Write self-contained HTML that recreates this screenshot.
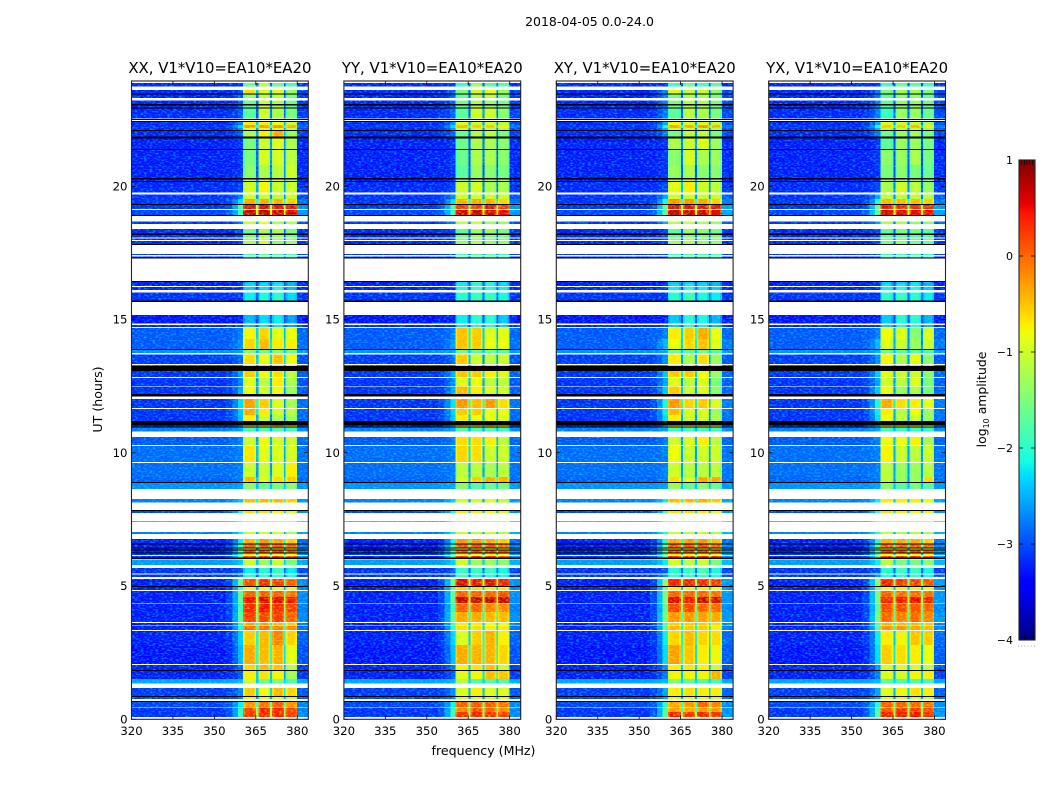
<!DOCTYPE html>
<html lang="en">
<head>
<meta charset="utf-8">
<title>2018-04-05 spectrogram</title>
<style>
html,body{margin:0;padding:0;background:#fff;width:1050px;height:800px;overflow:hidden}
svg{display:block}
text{font-family:"DejaVu Sans","Liberation Sans",sans-serif;fill:#000}
</style>
</head>
<body>
<svg id="chart" xmlns="http://www.w3.org/2000/svg" width="1050" height="800" viewBox="0 0 1050 800">
  <defs>
    <filter id="speckle" x="0" y="0" width="100%" height="100%" color-interpolation-filters="sRGB">
      <feTurbulence type="fractalNoise" baseFrequency="0.34 0.62" numOctaves="1" seed="7"/>
      <feColorMatrix type="matrix" values="0 0 0 0 0  1.6 0 0 0 -0.72  0 0 0 0 0  0 0 0 0 1"/>
    </filter>
  </defs>
  <text x="589.5" y="26" font-size="12.5" text-anchor="middle">2018-04-05 0.0-24.0</text>
  <text transform="translate(102 399.5) rotate(-90)" font-size="12.6" text-anchor="middle">UT (hours)</text>
  <text x="483.5" y="755" font-size="12.6" text-anchor="middle">frequency (MHz)</text>
  <text transform="translate(986 399.5) rotate(-90)" font-size="12.4" text-anchor="middle">log<tspan font-size="8" dy="3">10</tspan><tspan dy="-3"> amplitude</tspan></text>
  <g id="panels"></g>
  <g id="colorbar"></g>
</svg>
<script>
const panelNames = ["XX", "YY", "XY", "YX"];
const freqTicks = [320, 335, 350, 365, 380];
const hourTicks = [0, 5, 10, 15, 20];
const colorbarTicks = [-4, -3, -2, -1, 0, 1];
const shoulderBoost = [0, 0.05, 0.2, 0.2];

const channelEdges = [320,337,354,356.5,358.5,360.4,361,364.5,365.1,365.9,366.5,369.6,370.2,370.9,371.5,374.6,375.2,375.8,376.4,379.3,379.9,384];
const channelRole = ["bg","bg","s1","s2","s3","e0","b0","e0","g0","e1","b1","e1","g1","e2","b2","e2","g2","e3","b3","e3","right"];

const rowHigh = [23.88,23.62,23.44,23.22,23.03,22.91,22.41,22.30,22.19,22.08,21.80,21.36,20.80,20.26,20.16,19.70,19.52,19.29,19.11,18.68,18.39,18.18,18.04,17.94,17.46,17.36,16.41,16.35,16.22,16.02,15.17,14.80,14.69,14.27,13.86,13.68,13.29,13.07,12.81,12.48,12.02,11.65,11.42,11.03,10.94,10.59,10.26,9.62,9.09,8.87,8.26,7.81,7.43,7.02,6.76,6.55,6.41,6.34,6.22,6.12,5.99,5.68,5.44,5.26,4.96,4.81,4.59,4.34,4.02,3.61,3.50,3.32,2.78,2.03,1.82,1.52,1.18,0.84,0.65,0.44,0.27];
const rowLow = [23.74,23.49,23.31,23.09,22.95,22.55,22.30,22.19,22.11,21.86,21.39,20.80,20.31,20.20,19.77,19.52,19.33,19.14,18.92,18.58,18.22,18.08,17.98,17.83,17.43,17.32,16.35,16.26,16.11,15.71,14.86,14.72,14.27,13.90,13.74,13.33,13.26,12.85,12.51,12.21,11.68,11.42,11.19,10.99,10.79,10.29,9.65,9.09,8.91,8.65,8.14,7.74,7.40,6.95,6.60,6.45,6.38,6.26,6.16,6.07,5.79,5.48,5.34,5.00,4.85,4.59,4.36,4.02,3.65,3.52,3.35,2.78,2.07,1.85,1.52,1.34,0.88,0.77,0.46,0.27,0.09];
const blackHigh = [23.49,23.09,22.95,22.53,22.45,22.11,21.86,21.39,20.31,20.20,19.33,18.92,18.22,17.83,17.32,16.44,15.71,13.90,13.26,12.21,11.19,10.99,8.91,7.85,6.60,6.45,6.38,6.26,6.07,5.00,1.85,0.88,0.68];
const blackLow = [23.44,23.03,22.91,22.49,22.41,22.08,21.80,21.36,20.26,20.16,19.29,18.89,18.18,17.79,17.29,16.41,15.65,13.86,13.07,12.11,11.03,10.94,8.87,7.81,6.55,6.41,6.34,6.22,6.02,4.96,1.82,0.84,0.65];

const backgroundLevel = [-3.25,-3.25,-3.25,-3.25,-3.25,-3.25,-3.25,-3.2,-3.25,-3.25,-3.3,-3.3,-3.3,-3.3,-3.25,-3.2,-3.2,-3.2,-3.1,-3.2,-3.25,-3.25,-3.25,-3.25,-3.2,-3.2,-3.3,-3.3,-3.25,-3.2,-3.35,-3.25,-3,-3,-2.7,-3.15,-2.9,-3.2,-3.2,-3.2,-3.2,-3.2,-3.2,-3.2,-2.8,-3,-2.9,-2.9,-2.95,-2.7,-2.8,-3.1,-3.2,-2.8,-3.3,-3.3,-3.3,-3.3,-3.2,-3.2,-2.65,-3.2,-3.2,-3.3,-3.3,-3.3,-3.3,-3.3,-3.3,-3.3,-3.3,-3.3,-3.35,-3.3,-3.3,-2.6,-3.15,-3.1,-3.1,-3.2,-3.2];
const shoulderLevel = [-3.2,-3,-3,-3,-3,-3,-2.8,-2.3,-2.7,-3,-3.2,-3.2,-3.2,-3.2,-3.1,-2.8,-2.3,-1.8,-1.9,-2.8,-3.1,-3.1,-3.1,-3.1,-3.1,-3.1,-3.2,-3.2,-3.2,-3.2,-3.3,-3.2,-2.8,-2.7,-2.6,-2.9,-2.8,-2.6,-2.8,-2.6,-2.3,-2.4,-2.5,-2.6,-2.6,-2.8,-2.8,-2.8,-2.8,-2.6,-2.4,-2.1,-2.4,-2.2,-2.2,-1.9,-1.6,-1.9,-1.8,-1.8,-2.4,-3,-2.9,-1.6,-1.8,-1.7,-1.7,-1.9,-1.7,-2,-2,-2.4,-2.5,-2.9,-3,-2.5,-2.8,-2.8,-2.2,-2,-1.9];

const bandsXX = [[-1.6,-1.1,-1.6,-1.8],[-.6,-.9,-.9,-1.3],[-1.4,-1.1,-1.1,-1.5],[-1.6,-1,-1.2,-1.6],[-1.6,-1.1,-1.2,-1.6],[-1.7,-1,-1.2,-1.5],[-.7,-.7,-.8,-1],[-.25,-.25,-.2,-.35],[-.9,-.9,-.9,-1.1],[-1.2,-.7,-.3,-1.3],[-1.5,-1,-.9,-1.2],[-1.5,-.95,-.95,-1.1],[-1.4,-1.2,-1.1,-1],[-1.1,-.9,-.9,-1.2],[-.95,-.75,-1,-1],[-1,-1,-1.1,-1],[-.3,-.3,-.35,-.5],[.55,.55,.5,.5],[.75,.75,.7,.7],[-1,-.85,-1.2,-1.2],[-1.6,-1.2,-1.2,-1.5],[-1.5,-1.2,-1.3,-1.5],[-1.3,-1,-1.3,-1.4],[-1.2,-1,-1.4,-1.3],[-1.8,-1.6,-1.7,-1.8],[-1.9,-1.7,-1.8,-1.9],[-2.4,-2.4,-2.3,-2.5],[-2.3,-2.3,-2.2,-2.5],[-2.4,-2.3,-2.1,-2.5],[-2.2,-2.1,-2,-2.3],[-2.5,-2.3,-2.2,-2.6],[-2.5,-2.3,-2.3,-2.6],[-.75,-.55,-.85,-.8],[-.55,-.4,-.7,-.7],[-1.5,-1.6,-1.5,-1.6],[-.6,-.8,-.45,-.8],[-1,-1,-1,-1],[-.5,-.8,-.6,-1.1],[-.9,-1.1,-.7,-1.2],[-.8,-1,-.8,-1.3],[-.25,-.5,-.9,-1.2],[-.3,-.7,-1,-1.1],[-.7,-1,-1.2,-1.3],[-.5,-.6,-.3,-.6],[-1.9,-1.8,-1.8,-1.9],[-1,-.8,-.95,-1],[-.65,-.85,-.9,-.95],[-1,-1,-.9,-.7],[-.4,-.9,-.6,-.5],[-1.4,-1.6,-1.5,-1.4],[-.4,-.4,-.4,-.5],[-.6,-.6,-.8,-.9],[-.3,-.3,-.3,-.4],[-1,-1,-1,-1.2],[-.35,-.2,-.3,-.5],[.1,.2,.2,.05],[-.9,-.9,-.9,-.9],[.35,.35,.35,.25],[-.6,-.7,-.8,-.9],[.3,.35,.35,.25],[-1,-1.3,-1,-1.5],[-2.2,-2,-1.9,-2.2],[-2,-2,-1.9,-2.1],[.2,.4,.3,.1],[-.9,-.8,-.8,-.9],[.1,.1,.1,0],[.5,.6,.55,.5],[.4,.5,.4,.3],[.3,.25,.3,.1],[-.3,-.3,-.4,-.5],[0,0,-.1,-.15],[-.5,-.4,-.1,-.55],[-.3,-.4,-.35,-.85],[-.55,-.4,-.45,-1.1],[-.7,-.65,-.75,-1.25],[-1,-1.6,-1.5,-1.8],[-.5,-.8,-.4,-.55],[-.9,-.9,-.9,-1],[-.2,0,.15,-.15],[.25,.45,.4,.25],[.35,.4,.45,.3]];
const bandsYY = [[-1.9,-1.3,-1.7,-1.7],[-1.5,-1,-.8,-1.3],[-1.6,-1.2,-1.1,-1.5],[-1.6,-1.2,-1.3,-1.5],[-1.6,-1.2,-1.3,-1.5],[-1.7,-1,-1,-1.4],[-.9,-1,-1,-1.1],[-.4,-.5,-.5,-.7],[-1,-1,-1.1,-1.2],[-1.6,-1.2,-1.1,-1.5],[-1.6,-1.2,-1.2,-1.4],[-1.6,-1.2,-1.2,-1.4],[-1.7,-1.3,-1.4,-1.5],[-1.4,-1.1,-1.2,-1.3],[-1,-.95,-1.2,-1.2],[-1,-1,-1,-1],[-.35,-.3,-.35,-.55],[.3,.3,.5,.3],[.65,.7,.65,.6],[-1.1,-1,-1.3,-1.3],[-1.7,-1.3,-1.3,-1.5],[-1.6,-1.3,-1.4,-1.5],[-1.5,-1.3,-1.5,-1.5],[-1.4,-1.2,-1.4,-1.4],[-1.8,-1.7,-1.7,-1.8],[-1.9,-1.8,-1.8,-1.9],[-2.2,-2,-2.1,-2.3],[-2.2,-2,-2.1,-2.3],[-2.1,-1.9,-2,-2.2],[-2,-1.9,-1.9,-2.1],[-2.2,-2,-2,-2.4],[-2.3,-2.1,-2.1,-2.4],[-.45,-.5,-.9,-.85],[-.45,-.5,-.8,-.8],[-1.6,-1.7,-1.6,-1.7],[-.5,-1,-1.1,-1],[-1,-1,-1,-1],[-.5,-.5,-.7,-.9],[-.9,-.8,-1.1,-1.1],[-.4,-.7,-.9,-1],[-.2,-.4,-.2,-.6],[-.5,-.5,-.8,-.8],[-.7,-.8,-.8,-.9],[-.5,-.6,-.5,-.7],[-1.8,-1.8,-1.8,-1.9],[-.6,-.6,-.7,-1.1],[-.55,-.6,-1,-1],[-1.1,-1.1,-1.2,-1.1],[-.95,-.5,-.3,-.35],[-1.4,-1.7,-1.6,-1.5],[-1,-1,-.9,-1.1],[-.7,-.7,-.8,-1],[-.3,-.2,-.3,-.4],[-1,-1.1,-1,-1.1],[-.2,-.2,-.3,-.5],[.15,.2,.2,.05],[-.9,-.9,-.9,-.9],[.3,.35,.35,.25],[-.7,-.8,-.8,-.9],[.35,.4,.4,.3],[-1,-1.3,-1.3,-1.4],[-1.9,-1.9,-1.9,-2.1],[-1.9,-2,-2,-2.1],[.55,.5,.55,.45],[-.5,-.6,-.7,-.7],[.1,.1,.1,.2],[.7,.7,.7,.7],[.1,.1,-.1,-.1],[-.3,-.3,-.4,-.4],[-.7,-.7,-.8,-.8],[-.6,-.6,-.7,-.7],[-.9,-.5,-.35,-.7],[-.3,-.35,-.35,-.55],[-.75,-.65,-.45,-.95],[-.85,-.75,-.4,-.45],[-1.2,-1.8,-1.8,-1.8],[-.9,-.7,-.9,-.9],[-1,-1,-1,-1],[.1,.15,.1,0],[-.1,.25,.05,-.15],[.35,.45,.4,.3]];
const bandsXY = [[-1.9,-1.6,-1.8,-1.7],[-.9,-1,-1,-1.4],[-1.5,-1.2,-1.2,-1.5],[-1.5,-1.1,-1.2,-1.5],[-1.5,-1.2,-1.2,-1.5],[-1.7,-1.1,-1.2,-1.5],[-.8,-.9,-.9,-1.1],[-.3,-.35,-.2,-.4],[-1,-1,-1.1,-1.2],[-1.5,-1.1,-1.1,-1.5],[-1.2,-1,-.9,-1.3],[-1.4,-.95,-1.2,-1.3],[-1.3,-1.2,-1.4,-1.4],[-1.1,-.9,-1,-1.3],[-.85,-.7,-1,-1.1],[-1,-1,-1,-1],[-.2,-.2,-.3,-.5],[.6,.5,.5,.5],[.7,.7,.65,.6],[-1.1,-1,-1.2,-1.3],[-1.7,-1.3,-1.4,-1.5],[-1.6,-1.4,-1.5,-1.5],[-1.5,-1.2,-1.5,-1.4],[-1.3,-1.2,-1.4,-1.4],[-1.8,-1.7,-1.8,-1.8],[-1.9,-1.8,-1.8,-1.9],[-2.4,-2.4,-2.4,-2.5],[-2.3,-2.2,-2.3,-2.5],[-2.2,-2.1,-2.2,-2.4],[-2,-1.9,-2.1,-2.2],[-2.4,-2,-2.1,-2.5],[-2.4,-2.1,-2.2,-2.5],[-.7,-.5,-.3,-.8],[-.8,-.55,-.45,-.85],[-1.6,-1.7,-1.6,-1.7],[-.7,-1.2,-.6,-1.3],[-1,-1.1,-1,-1.2],[-.5,-.5,-.8,-1.3],[-.9,-1.1,-.9,-1.5],[-.5,-1,-.9,-1.4],[-.2,-.55,-.5,-.9],[-.4,-.9,-.9,-1.3],[-.7,-1,-1,-1.2],[-.5,-.7,-.6,-.8],[-1.9,-1.9,-1.9,-1.9],[-1,-.9,-.7,-1.1],[-.8,-1,-1,-1],[-1,-1.1,-1.1,-1.1],[-.6,-.9,-.3,-.3],[-1.3,-1.6,-1.4,-1.6],[-.4,-.4,-.3,-.5],[-.6,-.6,-.7,-.9],[-.3,-.3,-.3,-.4],[-1,-1.1,-1,-1.2],[-.3,-.2,-.2,-.4],[.15,.2,.2,.1],[-.9,-.9,-.9,-.9],[.35,.35,.35,.25],[-.6,-.7,-.8,-.9],[.35,.35,.35,.3],[-.95,-1.1,-1,-1.5],[-2,-1.9,-1.8,-2.1],[-2,-1.9,-1.9,-2.1],[.45,.45,.4,.3],[-.7,-.7,-.7,-.8],[.1,.1,.05,0],[.6,.5,.7,.6],[.25,.25,.1,.05],[-.2,-.2,-.25,-.3],[-.5,-.5,-.5,-.6],[-.4,-.5,-.5,-.7],[-.55,-.4,-.55,-.6],[-.25,-.45,-.7,-.75],[-.75,-.65,-.75,-1.05],[-.75,-.75,-.75,-.35],[-1.5,-1.7,-1.8,-1.9],[-.7,-.6,-.7,-.7],[-.9,-.9,-.9,-1],[-.3,-.2,.1,-.1],[-.25,-.3,-.2,-.2],[.45,.35,.45,.35]];
const bandsYX = [[-1.9,-1.6,-1.7,-1.9],[-1.5,-1.3,-1.3,-1.5],[-1.7,-1.4,-1.4,-1.6],[-1.7,-1.4,-1.4,-1.6],[-1.7,-1.4,-1.4,-1.6],[-1.9,-1.3,-1.3,-1.6],[-.9,-1,-1,-1.2],[-.5,-.5,-.4,-.7],[-1.1,-1.1,-1.1,-1.3],[-1.6,-1.3,-1.3,-1.5],[-1.7,-1.3,-1.3,-1.5],[-1.4,-1.3,-1.2,-1.5],[-1.5,-1.4,-1.5,-1.6],[-1.4,-1.3,-1.3,-1.5],[-1.2,-.95,-1.1,-1.3],[-1.1,-1.1,-1.1,-1.1],[-.4,-.4,-.4,-.5],[.5,.4,.4,.4],[.65,.6,.6,.55],[-1.2,-1.2,-1.4,-1.4],[-1.7,-1.5,-1.5,-1.7],[-1.7,-1.6,-1.7,-1.7],[-1.6,-1.5,-1.6,-1.6],[-1.5,-1.4,-1.6,-1.6],[-1.8,-1.8,-1.8,-1.9],[-1.9,-1.8,-1.8,-1.9],[-2.4,-2.4,-2.3,-2.5],[-2.3,-2.2,-2.2,-2.5],[-2.2,-2.1,-2.1,-2.4],[-2,-1.9,-2,-2.2],[-2.4,-2,-2,-2.5],[-2.4,-2.1,-2.1,-2.5],[-.8,-.9,-1.4,-.9],[-.9,-1,-1.3,-1],[-1.6,-1.7,-1.7,-1.8],[-.75,-1.2,-.85,-1.4],[-1.1,-1.2,-1.1,-1.2],[-.9,-1,-1,-1.4],[-1,-1.1,-.9,-1.5],[-.8,-1.3,-1.2,-1.5],[-.3,-.6,-.7,-.8],[-.7,-1.1,-.8,-1.3],[-.8,-1.1,-1,-1.3],[-.6,-.7,-.6,-.8],[-1.9,-1.9,-1.9,-2],[-.8,-.8,-.75,-1.2],[-.75,-1,-1.1,-1],[-1.1,-1.3,-1.3,-1.1],[-1.1,-1.3,-1.3,-.55],[-1.4,-1.7,-1.5,-1.7],[-.7,-.7,-.7,-.8],[-.6,-.7,-.8,-.9],[-.3,-.3,-.3,-.4],[-1.1,-1.2,-1.1,-1.2],[-.3,-.3,-.3,-.5],[.15,.15,.15,.05],[-.9,-.9,-.9,-.9],[.35,.35,.35,.25],[-.7,-.8,-.8,-.9],[.35,.35,.35,.25],[-1.1,-1.5,-1.5,-1.4],[-2,-1.9,-1.9,-2.1],[-2,-2,-1.9,-2.1],[.45,.35,.3,.2],[-.8,-.7,-.7,-.8],[.1,.05,.05,0],[.45,.5,.55,.45],[.2,.2,.15,.1],[.05,-.05,.05,-.1],[-.4,-.4,-.4,-.5],[-.2,-.2,-.3,-.4],[-.7,-.75,-.45,-.5],[-.5,-.6,-.7,-.8],[-.95,-.9,-.95,-1.05],[-.9,-.95,-.75,-.7],[-1.7,-1.8,-1.8,-1.9],[-.9,-.75,-.6,-.7],[-1,-1,-1,-1],[.1,.1,.05,0],[.15,.35,.3,.2],[.45,.5,.5,.4]];
const panelBands = [bandsXX, bandsYY, bandsXY, bandsYX];

const SVG_NS = "http://www.w3.org/2000/svg";
const axisTop = 81;
const axisBottom = 719.3;
const axisWidth = 176.8;
const hourSpan = 23.95;
const freqMin = 320;
const freqSpan = 64;

function panelLeft(i) { return 131.5 + i * 212.4; }
function xScale(i, mhz) { return panelLeft(i) + (mhz - freqMin) * axisWidth / freqSpan; }
function yScale(hour) { return axisBottom - hour * (axisBottom - axisTop) / hourSpan; }
function colorbarY(v) { return 640 - (v + 4) * 96; }

function jetPart(t, a, b, c, d) {
  if (t < a) return 0;
  if (t < b) return (t - a) / (b - a);
  if (t < c) return 1;
  if (t < d) return 1 - (t - c) / (d - c);
  return 0;
}
function jet(level) {
  const t = Math.max(0, Math.min(1, (level + 4) / 5));
  const r = t > 0.89 ? 1 - (t - 0.89) / 0.11 * 0.5 : jetPart(t, 0.35, 0.66, 2, 3);
  const g = jetPart(t, 0.125, 0.375, 0.64, 0.91);
  const b = t < 0.11 ? 0.5 + t / 0.11 * 0.5 : jetPart(t, -1, 0, 0.34, 0.65);
  return "rgb(" + Math.round(r * 255) + "," + Math.round(g * 255) + "," + Math.round(b * 255) + ")";
}
function makeSvg(tag, attrs, parent) {
  const el = document.createElementNS(SVG_NS, tag);
  for (const k in attrs) el.setAttribute(k, attrs[k]);
  parent.appendChild(el);
  return el;
}
function cellLevel(role, bg, shoulder, bands) {
  const mix = function (w) { return shoulder > bg ? bg + (shoulder - bg) * w : bg; };
  if (role === "bg") return bg;
  if (role === "s1") return mix(0.12);
  if (role === "s2") return mix(0.45);
  if (role === "s3") return mix(1);
  if (role === "right") return mix(0.35);
  const n = Number(role[1]);
  if (role[0] === "b") return bands[n];
  if (role[0] === "e") return bands[n] - 0.22;
  return Math.max(bg + 0.25, (bands[n] + bands[n + 1]) / 2 - 1.7);
}

const panelsRoot = document.getElementById("panels");
panelNames.forEach(function (name, p) {
  const group = makeSvg("g", {}, panelsRoot);
  
  

  const left = panelLeft(p);
  const plotBg = makeSvg("rect", { x: left, y: axisTop, width: axisWidth, height: axisBottom - axisTop, fill: "#fff" }, group);
  
  

  const heat = makeSvg("g", { "shape-rendering": "crispEdges" }, group);
  
  

  rowHigh.forEach(function (high, r) {
    const yTop = yScale(high);
    const yBot = yScale(rowLow[r]);
    const bg = backgroundLevel[r];
    const sh = shoulderLevel[r] > bg + 0.2 ? shoulderLevel[r] + shoulderBoost[p] : shoulderLevel[r];
    channelRole.forEach(function (role, c) {
      const x0 = xScale(p, channelEdges[c]);
      const x1 = xScale(p, channelEdges[c + 1]);
      const cell = makeSvg("rect", {
        x: x0.toFixed(2), y: yTop.toFixed(2),
        width: (x1 - x0).toFixed(2), height: (yBot - yTop).toFixed(2),
        fill: jet(cellLevel(role, bg, sh, panelBands[p][r]))
      }, heat);
      
      
    });
  });

  const noise = makeSvg("rect", {
    x: left, y: axisTop, width: axisWidth, height: axisBottom - axisTop,
    filter: "url(#speckle)", style: "mix-blend-mode:screen"
  }, group);
  
  

  blackHigh.forEach(function (high, b) {
    const y0 = yScale(high);
    const y1 = yScale(blackLow[b]);
    const bar = makeSvg("rect", {
      x: left, y: y0.toFixed(2), width: axisWidth, height: (y1 - y0).toFixed(2),
      fill: "#000", "shape-rendering": "crispEdges"
    }, group);
    
    
  });

  freqTicks.forEach(function (f) {
    const x = xScale(p, f);
    const tickLow = makeSvg("line", { x1: x, x2: x, y1: axisBottom, y2: axisBottom - 4, stroke: "#000", "stroke-width": 0.8 }, group);
    
    
    const tickHigh = makeSvg("line", { x1: x, x2: x, y1: axisTop, y2: axisTop + 4, stroke: "#000", "stroke-width": 0.8 }, group);
    
    
    const label = makeSvg("text", { x: x, y: 735, "font-size": 11.7, "text-anchor": "middle" }, group);
    
    
    label.textContent = String(f);
  });

  hourTicks.forEach(function (h) {
    const y = yScale(h);
    const tickLeft = makeSvg("line", { x1: left, x2: left + 4, y1: y, y2: y, stroke: "#000", "stroke-width": 0.8 }, group);
    
    
    const tickRight = makeSvg("line", { x1: left + axisWidth, x2: left + axisWidth - 4, y1: y, y2: y, stroke: "#000", "stroke-width": 0.8 }, group);
    
    
    const label = makeSvg("text", { x: left - 4, y: y + 4, "font-size": 11.7, "text-anchor": "end" }, group);
    
    
    label.textContent = String(h);
  });

  const frame = makeSvg("rect", { x: left, y: axisTop, width: axisWidth, height: axisBottom - axisTop, fill: "none", stroke: "#222", "stroke-width": 1.1 }, group);
  
  

  const title = makeSvg("text", { x: left + axisWidth / 2, y: 73, "font-size": 14.9, "text-anchor": "middle" }, group);
  
  
  title.textContent = name + ", V1*V10=EA10*EA20";
});

const cbRoot = document.getElementById("colorbar");
const cbLeft = 1019;
const cbWidth = 16;
const cbSteps = 240;
for (let s = 0; s < cbSteps; s++) {
  const v0 = -4 + 5 * s / cbSteps;
  const v1 = -4 + 5 * (s + 1) / cbSteps;
  const strip = makeSvg("rect", {
    x: cbLeft, y: colorbarY(v1), width: cbWidth, height: colorbarY(v0) - colorbarY(v1) + 0.3,
    fill: jet((v0 + v1) / 2), "shape-rendering": "crispEdges"
  }, cbRoot);
  
  
}
colorbarTicks.forEach(function (v) {
  const y = colorbarY(v);
  if (v > -4 && v < 1) {
    const tickA = makeSvg("line", { x1: cbLeft, x2: cbLeft + 4, y1: y, y2: y, stroke: "#000", "stroke-width": 0.8 }, cbRoot);
    
    
    const tickB = makeSvg("line", { x1: cbLeft + cbWidth, x2: cbLeft + cbWidth - 4, y1: y, y2: y, stroke: "#000", "stroke-width": 0.8 }, cbRoot);
    
    
  }
  const label = makeSvg("text", { x: 1013, y: y + 4, "font-size": 11, "text-anchor": "end" }, cbRoot);
  
  
  label.textContent = v < 0 ? "\u2212" + Math.abs(v) : String(v);
});
for (let m = 1; m < 6; m++) {
  const x = cbLeft + m * cbWidth / 6;
  const minorTop = makeSvg("line", { x1: x, x2: x, y1: 160, y2: 165, stroke: "#000", "stroke-width": 0.7 }, cbRoot);
  
  
  const minorBottom = makeSvg("line", { x1: x, x2: x, y1: 640, y2: 635, stroke: "#000", "stroke-width": 0.7 }, cbRoot);
  
  
}
const cbFrame = makeSvg("rect", { x: cbLeft, y: 160, width: cbWidth, height: 480, fill: "none", stroke: "#222", "stroke-width": 1.1 }, cbRoot);


const cbDots = makeSvg("line", { x1: 1018, x2: 1035, y1: 646, y2: 646, stroke: "#888", "stroke-width": 0.8, "stroke-dasharray": "1 2.2" }, cbRoot);


</script>
</body>
</html>
